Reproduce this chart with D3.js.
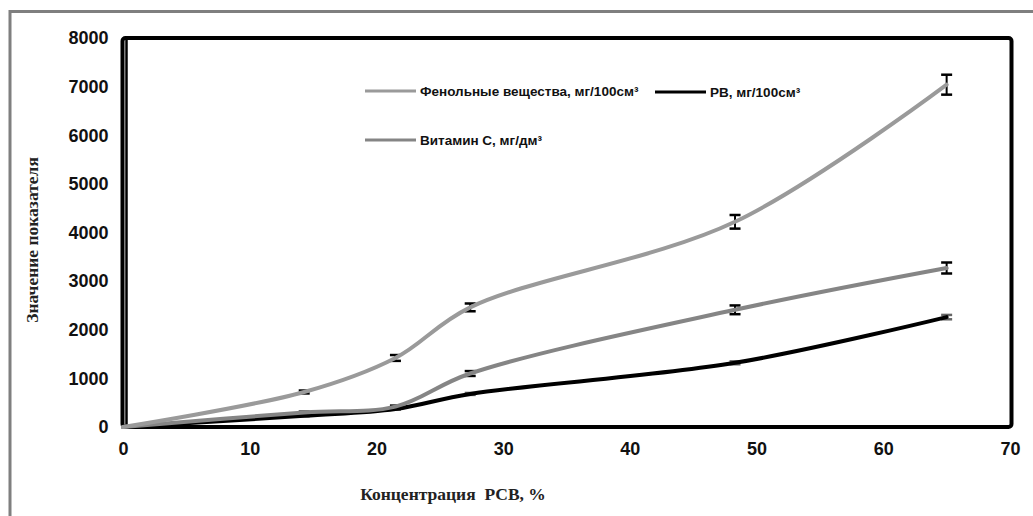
<!DOCTYPE html>
<html>
<head>
<meta charset="utf-8">
<script src="https://cdn.jsdelivr.net/npm/d3@7"></script>
<style>
  body { margin: 0; background: #fff; }
  svg { display: block; }
  .tick-label { font-family: "Liberation Sans", Arial, sans-serif; font-weight: bold; font-size: 18px; fill: #111; }
  .axis-title { font-family: "Liberation Serif", "Times New Roman", serif; font-weight: bold; font-size: 17.5px; fill: #222; white-space: pre; }
  .legend-label { font-family: "Liberation Sans", Arial, sans-serif; font-weight: bold; font-size: 13.5px; fill: #111; }
</style>
</head>
<body>
<div id="chart"></div>
<script>
// concentration of soluble solids, %
const concentration = [0, 14.3, 21.5, 27.4, 48.3, 65];

const phenolic = [0, 720, 1420, 2460, 4220, 7040];
const phenolicErr = [0, 30, 60, 80, 140, 205];

const vitaminC = [0, 300, 420, 1100, 2410, 3270];
const vitaminCErr = [0, 15, 20, 50, 90, 113];

const reducingSugars = [0, 230, 370, 680, 1320, 2260];
const reducingSugarsErr = [0, 10, 15, 20, 30, 45];

const xTicks = [0, 10, 20, 30, 40, 50, 60, 70];
const yTicks = [0, 1000, 2000, 3000, 4000, 5000, 6000, 7000, 8000];

const seriesNames = ['Фенольные вещества, мг/100см³', 'РВ, мг/100см³', 'Витамин С, мг/дм³'];

const width = 1033;
const height = 516;
const plot = { left: 122.5, top: 38, right: 1011.5, bottom: 427 };

const svg = d3.select('#chart')
  .append('svg')
  .attr('width', width)
  .attr('height', height);

// outer grey frame
svg.append('path')
  .attr('d', `M10,${height} V11.5 H${width}`)
  .attr('fill', 'none')
  .attr('stroke', '#7f7f7f')
  .attr('stroke-width', 3);

const x = d3.scaleLinear().domain([0, 70]).range([123, 1010]);
const y = d3.scaleLinear().domain([0, 8000]).range([427, 38]);

// plot frame
svg.append('rect')
  .attr('x', plot.left)
  .attr('y', plot.top)
  .attr('width', plot.right - plot.left)
  .attr('height', plot.bottom - plot.top)
  .attr('rx', 3)
  .attr('fill', 'none')
  .attr('stroke', '#000')
  .attr('stroke-width', 4);

// y axis
const yAxis = svg.append('g')
  .attr('transform', 'translate(126.5,0)')
  .call(d3.axisLeft(y).tickValues(yTicks).tickSize(0).tickPadding(18).tickFormat(d3.format('d')));
yAxis.select('.domain')
  .attr('stroke', '#000')
  .attr('stroke-width', 2.5)
  .attr('d', `M0,${plot.top + 2}V${plot.bottom}`);
yAxis.selectAll('text').attr('class', 'tick-label').attr('fill', null);

// x axis
const xAxis = svg.append('g')
  .attr('transform', `translate(0,${plot.bottom})`)
  .call(d3.axisBottom(x).tickValues(xTicks).tickSize(0).tickPadding(15.5).tickFormat(d3.format('d')));
xAxis.select('.domain').remove();
xAxis.selectAll('text').attr('class', 'tick-label').attr('fill', null);

// axis titles
svg.append('text')
  .attr('class', 'axis-title')
  .attr('text-anchor', 'middle')
  .attr('transform', 'translate(38,240) rotate(-90)')
  .text('Значение показателя');

svg.append('text')
  .attr('class', 'axis-title')
  .attr('x', 453)
  .attr('y', 500)
  .attr('text-anchor', 'middle')
  .text('Концентрация  РСВ, %');

const series = [
  { name: seriesNames[1], values: reducingSugars, err: reducingSugarsErr, color: '#000', errColor: '#666' },
  { name: seriesNames[2], values: vitaminC, err: vitaminCErr, color: '#858585', errColor: '#000' },
  { name: seriesNames[0], values: phenolic, err: phenolicErr, color: '#9a9a9a', errColor: '#000' },
];

const line = d3.line()
  .x((d) => x(d[0]))
  .y((d) => y(d[1]))
  .curve(d3.curveCatmullRom.alpha(0.5));

// error bars
series.forEach((s) => {
  const g = svg.append('g').attr('stroke', s.errColor).attr('stroke-width', 2);
  concentration.forEach((c, i) => {
    if (!s.err[i]) return;
    const cx = x(c);
    const y1 = y(s.values[i] - s.err[i]);
    const y2 = y(s.values[i] + s.err[i]);
    g.append('line').attr('x1', cx).attr('x2', cx).attr('y1', y1).attr('y2', y2);
    g.append('line').attr('x1', cx - 5.5).attr('x2', cx + 5.5).attr('y1', y1).attr('y2', y1).attr('stroke-width', 2.5);
    g.append('line').attr('x1', cx - 5.5).attr('x2', cx + 5.5).attr('y1', y2).attr('y2', y2).attr('stroke-width', 2.5);
  });
});

// lines
series.forEach((s) => {
  svg.append('path')
    .datum(concentration.map((c, i) => [c, s.values[i]]))
    .attr('fill', 'none')
    .attr('stroke', s.color)
    .attr('stroke-width', 4)
    .attr('stroke-linecap', 'round')
    .attr('d', line);
});

// legend
const legendItems = [
  { name: seriesNames[0], color: '#9a9a9a', x: 365, y: 91 },
  { name: seriesNames[1], color: '#000', x: 655, y: 92 },
  { name: seriesNames[2], color: '#858585', x: 365, y: 140 },
];

const legend = svg.append('g');
legendItems.forEach((item) => {
  legend.append('line')
    .attr('x1', item.x)
    .attr('x2', item.x + 51)
    .attr('y1', item.y)
    .attr('y2', item.y)
    .attr('stroke', item.color)
    .attr('stroke-width', 3);
  legend.append('text')
    .attr('class', 'legend-label')
    .attr('x', item.x + 55)
    .attr('y', item.y)
    .attr('dy', '0.35em')
    .text(item.name);
});
</script>
</body>
</html>
